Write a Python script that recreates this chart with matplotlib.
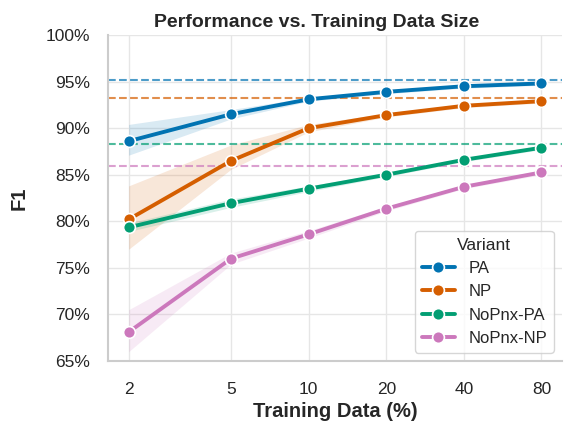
import numpy as np
import matplotlib.pyplot as plt
import seaborn as sns
from matplotlib.ticker import FuncFormatter, FixedLocator, NullLocator

sns.set_theme(style="whitegrid")
plt.rcParams['font.family'] = ['Liberation Sans', 'DejaVu Sans']

# training data fraction (%)
sizes = [2, 5, 10, 20, 40, 80]

variants = ["PA", "NP", "NoPnx-PA", "NoPnx-NP"]
colors = ["#0173b2", "#d55e00", "#029e73", "#cc78bc"]

# mean F1 (%)
f1_pa = [88.6, 91.5, 93.1, 93.9, 94.5, 94.8]
f1_np = [80.2, 86.5, 90.0, 91.4, 92.4, 92.9]
f1_nopnx_pa = [79.35, 81.95, 83.5, 85.0, 86.6, 87.9]
f1_nopnx_np = [68.1, 76.0, 78.6, 81.35, 83.7, 85.25]

# confidence band (lower / upper)
lo_pa = [87.1, 91.0, 92.9, 93.7, 94.3, 94.6]
hi_pa = [90.4, 92.0, 93.3, 94.1, 94.7, 95.0]
lo_np = [77.0, 85.6, 89.6, 91.2, 92.2, 92.7]
hi_np = [83.8, 88.2, 90.4, 91.6, 92.6, 93.1]
lo_nopnx_pa = [78.9, 81.5, 83.2, 84.8, 86.4, 87.7]
hi_nopnx_pa = [79.8, 82.4, 83.8, 85.2, 86.8, 88.1]
lo_nopnx_np = [66.0, 75.4, 78.2, 81.1, 83.5, 85.0]
hi_nopnx_np = [70.5, 76.6, 79.0, 81.6, 83.9, 85.5]

# full-data reference scores
full_data = [95.2, 93.2, 88.3, 85.9]

means = [f1_pa, f1_np, f1_nopnx_pa, f1_nopnx_np]
lows = [lo_pa, lo_np, lo_nopnx_pa, lo_nopnx_np]
highs = [hi_pa, hi_np, hi_nopnx_pa, hi_nopnx_np]

fig = plt.figure(figsize=(5.64, 4.25), dpi=100)
ax = fig.add_axes([0.1915, 0.1506, 0.805, 0.767])

for name, c, m, lo, hi, ref in zip(variants, colors, means, lows, highs, full_data):
    ax.fill_between(sizes, lo, hi, color=c, alpha=0.15, linewidth=0)
    ax.plot(sizes, m, color=c, lw=2.8, marker='o', markersize=8.5,
            markeredgecolor='white', markeredgewidth=1.2, label=name, zorder=3)
    ax.axhline(ref, color=c, ls='--', lw=1.5, alpha=0.7, zorder=2)

ax.set_xscale('log')
ax.set_xlim(2 / 10**0.08, 80 * 10**0.08)
ax.xaxis.set_major_locator(FixedLocator(sizes))
ax.xaxis.set_minor_locator(NullLocator())
ax.xaxis.set_major_formatter(FuncFormatter(lambda v, p: f"{v:g}"))
ax.set_ylim(65, 100)
ax.set_yticks(np.arange(65, 101, 5))
ax.yaxis.set_major_formatter(FuncFormatter(lambda v, p: f"{v:.0f}%"))

ax.grid(True, color='#e6e6e6', lw=1)
sns.despine(ax=ax)
for s in ['left', 'bottom']:
    ax.spines[s].set_color('#cccccc')
    ax.spines[s].set_linewidth(1.5)

ax.tick_params(axis='y', labelsize=12.5, colors='#262626', pad=7)
ax.tick_params(axis='x', labelsize=12.5, colors='#262626', pad=9)
ax.set_title("Performance vs. Training Data Size", fontsize=14, fontweight='bold',
             pad=6, x=0.459)
ax.set_xlabel("Training Data (%)", fontsize=14.5, fontweight='bold', labelpad=4)
ax.set_ylabel("F1", fontsize=14.5, fontweight='bold', labelpad=12)

leg = ax.legend(title="Variant", loc='lower right', fontsize=12, title_fontsize=12.5,
                frameon=True, handlelength=2.0, borderaxespad=0.5)
leg.get_frame().set_edgecolor('#cccccc')

fig.savefig("out.png", dpi=100)
